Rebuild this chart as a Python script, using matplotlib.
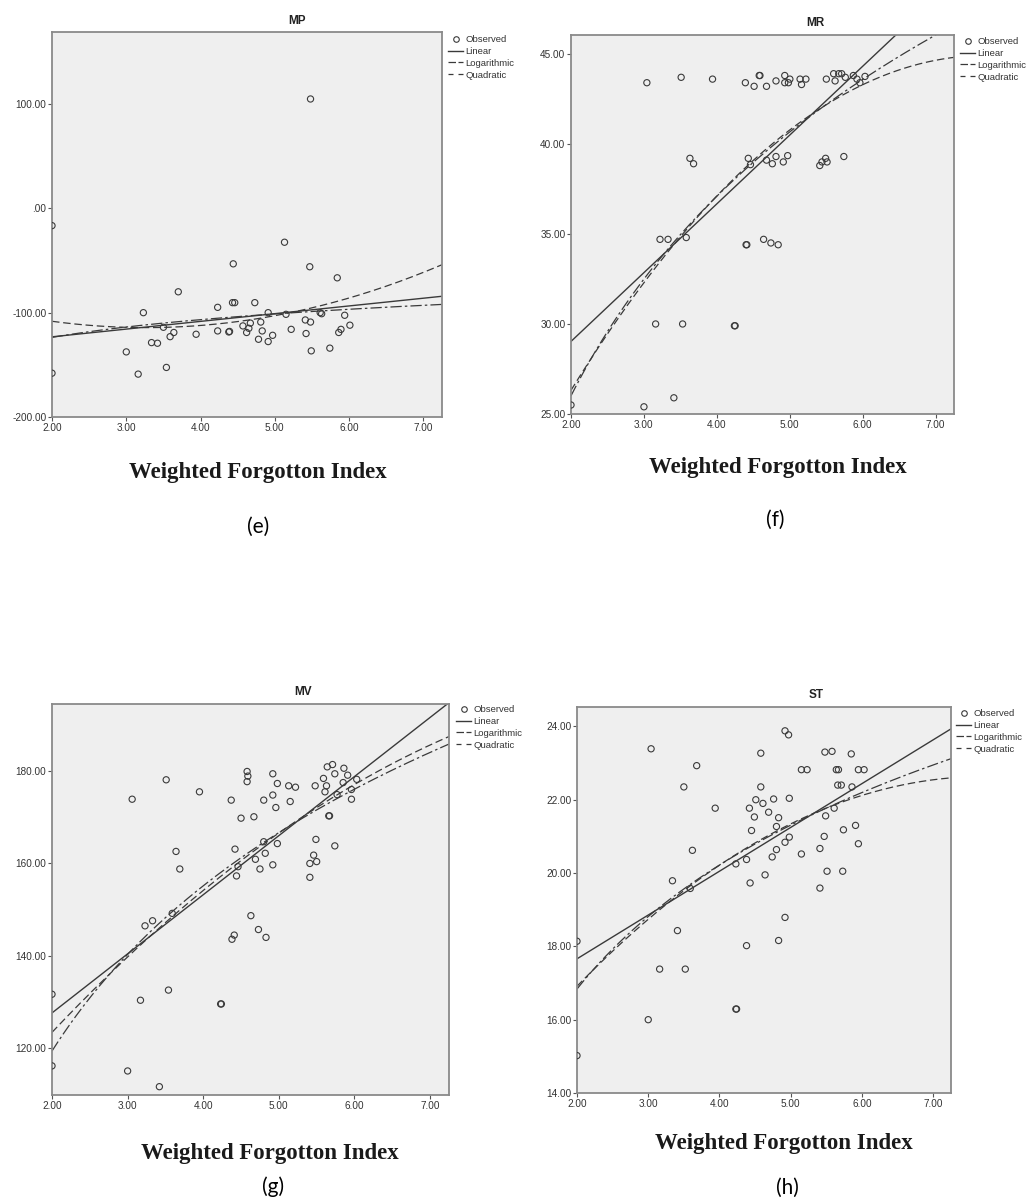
import numpy as np
import matplotlib.pyplot as plt
from matplotlib.lines import Line2D

W, H = 1029, 1203

# x axis shared by all four panels
x_ticks = [2, 3, 4, 5, 6, 7]
x_tick_labels = ['2.00', '3.00', '4.00', '5.00', '6.00', '7.00']
x_label = 'Weighted Forgotton Index'
legend_labels = ['Observed', 'Linear', 'Logarithmic', 'Quadratic']

# (e) MP
mp_x = [5.48, 2.0, 5.13, 4.44, 5.47, 5.84, 3.70, 3.23, 4.23, 4.43, 4.46, 4.73, 4.91, 5.15, 5.61, 5.63,
        5.94, 6.01, 5.89, 5.86, 5.41, 5.48, 5.42, 5.22, 4.81, 4.67, 4.57, 4.65, 4.62, 4.83, 4.78, 4.91,
        4.97, 4.23, 4.38, 4.39, 3.94, 3.64, 3.59, 3.50, 3.34, 3.42, 3.0, 3.16, 3.54, 2.0, 5.49, 5.74]
mp_y = [104.8, -16.6, -32.5, -53.2, -56.0, -66.6, -80.0, -100.0, -94.9, -90.4, -90.4, -90.4, -100.0,
        -101.6, -100.0, -101.0, -102.5, -112.0, -116.0, -119.0, -107.0, -109.0, -120.0, -116.0, -109.0,
        -110.0, -112.7, -115.0, -119.0, -117.5, -125.5, -127.7, -121.7, -117.5, -118.5, -118.0, -120.7,
        -119.0, -123.0, -114.0, -128.7, -129.3, -137.6, -158.9, -152.5, -158.0, -136.6, -134.0]
mp_yticks = [-200, -100, 0, 100]
mp_ytick_labels = ['-200.00', '-100.00', '.00', '100.00']
mp_ylim = (-200, 169)

# (f) MR
mr_x = [3.04, 3.51, 3.94, 4.39, 4.51, 4.58, 4.59, 4.68, 4.81, 4.93, 4.93, 4.98, 5.00, 5.14, 5.16, 5.22,
        5.50, 5.60, 5.67, 5.71, 5.62, 5.76, 5.87, 5.92, 5.96, 6.03,
        3.63, 3.68, 4.43, 4.46, 4.68, 4.76, 4.81, 4.91, 4.97, 5.41, 5.44, 5.49, 5.51, 5.74,
        3.22, 3.33, 3.58, 4.40, 4.41, 4.64, 4.74, 4.84,
        3.16, 3.53, 4.24, 4.25,
        2.0, 3.0, 3.41]
mr_y = [43.4, 43.7, 43.6, 43.4, 43.2, 43.8, 43.8, 43.2, 43.5, 43.8, 43.4, 43.4, 43.6, 43.6, 43.3, 43.6,
        43.6, 43.9, 43.9, 43.9, 43.5, 43.7, 43.8, 43.6, 43.4, 43.75,
        39.2, 38.9, 39.2, 38.85, 39.1, 38.9, 39.3, 39.0, 39.35, 38.8, 39.0, 39.2, 39.0, 39.3,
        34.7, 34.7, 34.8, 34.4, 34.4, 34.7, 34.5, 34.4,
        30.0, 30.0, 29.9, 29.9,
        25.5, 25.4, 25.9]
mr_yticks = [25, 30, 35, 40, 45]
mr_ytick_labels = ['25.00', '30.00', '35.00', '40.00', '45.00']
mr_ylim = (25, 46.05)

# (g) MV
mv_x = [3.06, 3.51, 3.95, 4.58, 4.59, 4.58, 4.92, 4.98, 5.13, 5.22, 5.48, 5.59, 5.64, 5.71, 5.74, 5.86,
        5.91, 6.03, 5.63, 5.61, 5.77, 5.85, 5.96, 5.96,
        4.37, 4.80, 4.92, 4.96, 5.15, 4.50, 4.67, 5.66, 5.67,
        3.64, 3.69, 4.42, 4.80, 4.98, 4.82, 4.69, 4.46, 4.44, 4.75, 4.92, 5.49, 5.74, 5.46, 5.50, 5.41, 5.41,
        3.23, 3.33, 3.59, 4.63, 4.73, 4.83, 4.41, 4.38,
        2.0, 3.17, 3.54, 4.23, 4.24, 2.0, 3.0, 3.42]
mv_y = [173.9, 178.1, 175.5, 179.9, 178.9, 177.7, 179.4, 177.3, 176.8, 176.5, 176.8, 178.4, 180.9, 181.4,
        179.4, 180.6, 179.1, 178.2, 176.8, 175.5, 174.9, 177.5, 176.0, 173.9,
        173.7, 173.7, 174.8, 172.1, 173.4, 169.8, 170.1, 170.3, 170.3,
        162.6, 158.8, 163.1, 164.7, 164.3, 162.2, 160.9, 159.3, 157.3, 158.8, 159.7, 165.2, 163.8, 161.8,
        160.4, 160.0, 157.0,
        146.5, 147.6, 149.2, 148.7, 145.7, 144.0, 144.5, 143.6,
        131.7, 130.4, 132.6, 129.6, 129.6, 116.2, 115.1, 111.7]
mv_yticks = [120, 140, 160, 180]
mv_ytick_labels = ['120.00', '140.00', '160.00', '180.00']
mv_ylim = (109.9, 194.5)

# (h) ST
st_x = [4.92, 4.97, 3.04, 4.58, 5.48, 5.58, 5.85, 3.68, 5.15, 5.23, 5.64, 5.67, 5.95, 6.03,
        3.50, 4.58, 5.66, 5.71, 5.86, 3.94, 4.51, 4.61, 4.76, 4.98, 4.42, 4.69, 4.49, 4.83,
        4.45, 4.80, 4.98, 4.92, 5.61, 5.49, 5.74, 5.91, 5.47, 5.95, 5.41, 5.15, 4.80, 4.74, 4.38, 4.23,
        3.62, 3.34, 3.59, 4.64, 4.43, 5.51, 5.73, 5.41, 4.92, 3.41, 4.38, 4.83, 2.0, 3.16, 3.52, 4.23,
        4.24, 3.0, 2.0]
st_y = [23.88, 23.77, 23.39, 23.27, 23.30, 23.32, 23.25, 22.93, 22.82, 22.82, 22.82, 22.82, 22.82, 22.82,
        22.35, 22.35, 22.4, 22.4, 22.35, 21.77, 22.0, 21.9, 22.02, 22.04, 21.77, 21.66, 21.53, 21.51,
        21.16, 21.27, 20.98, 20.84, 21.77, 21.56, 21.18, 21.30, 21.0, 20.8, 20.67, 20.52, 20.64, 20.44,
        20.37, 20.25,
        20.62, 19.79, 19.58, 19.95, 19.73, 20.05, 20.05, 19.59, 18.79, 18.43, 18.02, 18.16, 18.14, 17.38,
        17.38, 16.29, 16.29, 16.0, 15.02]
st_yticks = [14, 16, 18, 20, 22, 24]
st_ytick_labels = ['14.00', '16.00', '18.00', '20.00', '22.00', '24.00']
st_ylim = (14, 24.53)

INK = '#3a3a3a'
LIN_STYLE = '-'
LOG_STYLE = (0, (9, 2.5, 2, 2.5))
QUAD_STYLE = (0, (6, 3))


def fitCurves(x, y, grid):
    # same three curve estimates SPSS draws
    x = np.asarray(x, dtype=float)
    y = np.asarray(y, dtype=float)
    lin = np.polyval(np.polyfit(x, y, 1), grid)
    log = np.polyval(np.polyfit(np.log(x), y, 1), np.log(grid))
    quad = np.polyval(np.polyfit(x, y, 2), grid)
    return lin, log, quad


def addPanel(fig, box, x, y, ylim, yticks, ytick_labels, title, title_xy, legend_xy, xlabel_xy,
             letter, letter_xy):
    left, top, right, bottom = box
    ax = fig.add_axes([left / W, 1 - bottom / H, (right - left) / W, (bottom - top) / H])
    ax.set_facecolor('#efefef')
    for s in ax.spines.values():
        s.set_color('#8a8a8a')
        s.set_linewidth(1.3)

    ax.set_xlim(2, 7.25)
    ax.set_ylim(*ylim)

    grid = np.linspace(2, 7.25, 200)
    lin, log, quad = fitCurves(x, y, grid)
    ax.plot(grid, lin, color=INK, lw=1.0, ls=LIN_STYLE)
    ax.plot(grid, log, color=INK, lw=0.9, ls=LOG_STYLE)
    ax.plot(grid, quad, color=INK, lw=0.9, ls=QUAD_STYLE)

    ax.scatter(x, y, s=20, facecolors='none', edgecolors=INK, linewidths=0.8, zorder=3)

    ax.set_xticks(x_ticks)
    ax.set_xticklabels(x_tick_labels)
    ax.set_yticks(yticks)
    ax.set_yticklabels(ytick_labels)
    ax.tick_params(direction='out', length=3, width=0.8, color='#555555', labelsize=7.2,
                   labelcolor='#333333', pad=1)
    for lab in ax.get_xticklabels() + ax.get_yticklabels():
        lab.set_fontfamily('Liberation Sans')

    fig.text(title_xy[0] / W, 1 - title_xy[1] / H, title, ha='center', va='center',
             fontsize=8.5, fontweight='bold', family='Liberation Sans', color='#222222')

    handles = [Line2D([], [], ls='none', marker='o', mfc='none', mec=INK, ms=4, mew=0.8),
               Line2D([], [], color=INK, lw=1.0, ls=LIN_STYLE),
               Line2D([], [], color=INK, lw=0.9, ls=(0, (6, 2))),
               Line2D([], [], color=INK, lw=0.9, ls=(0, (4, 4)))]
    leg = fig.legend(handles, legend_labels, loc='upper left',
                     bbox_to_anchor=(legend_xy[0] / W, 1 - legend_xy[1] / H),
                     bbox_transform=fig.transFigure, frameon=False, handlelength=1.6,
                     handletextpad=0.2, labelspacing=0.3, borderpad=0, borderaxespad=0,
                     prop={'family': 'Liberation Sans', 'size': 6.8})
    for t in leg.get_texts():
        t.set_color('#333333')

    fig.text(xlabel_xy[0] / W, 1 - xlabel_xy[1] / H, x_label, ha='center', va='center',
             fontsize=16.5, fontweight='bold', family='Liberation Serif', color='#1a1a1a')
    fig.text(letter_xy[0] / W, 1 - letter_xy[1] / H, letter, ha='center', va='center',
             fontsize=15, family='Lato', color='black')
    return ax


def main():
    fig = plt.figure(figsize=(W / 100, H / 100), dpi=100)
    fig.patch.set_facecolor('white')

    addPanel(fig, (52, 32, 442, 417), mp_x, mp_y, mp_ylim, mp_yticks, mp_ytick_labels,
             'MP', (297, 21), (448, 35), (258, 472), '(e)', (258, 527))
    addPanel(fig, (571, 35, 954, 414), mr_x, mr_y, mr_ylim, mr_yticks, mr_ytick_labels,
             'MR', (815, 23), (960, 37), (778, 468), '(f)', (775, 520))
    addPanel(fig, (52, 704, 449, 1095), mv_x, mv_y, mv_ylim, mv_yticks, mv_ytick_labels,
             'MV', (303, 692), (456, 705), (270, 1153), '(g)', (273, 1187))
    addPanel(fig, (577, 707, 951, 1093), st_x, st_y, st_ylim, st_yticks, st_ytick_labels,
             'ST', (816, 695), (956, 709), (784, 1144), '(h)', (787, 1188))

    fig.savefig('out.png', dpi=100, facecolor='white')


if __name__ == "__main__":
    main()
